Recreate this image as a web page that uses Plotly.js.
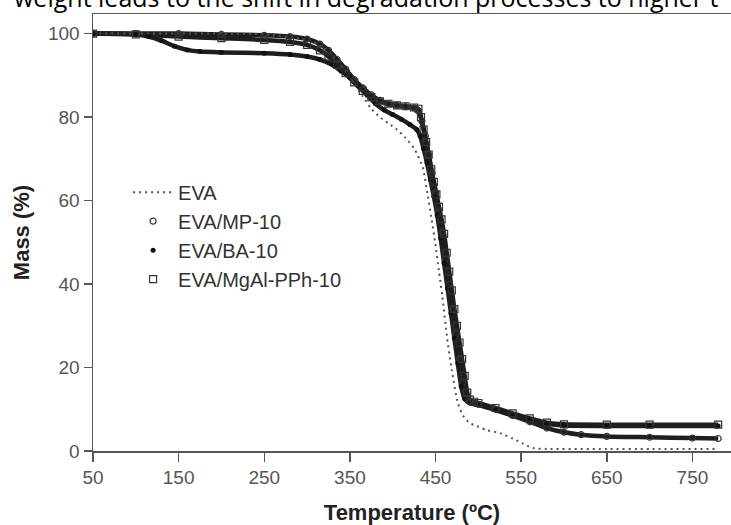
<!DOCTYPE html>
<html>
<head>
<meta charset="utf-8">
<script src="https://cdn.plot.ly/plotly-3.0.1.min.js"></script>
<style>html,body{margin:0;padding:0;background:#fff;}#chart{width:731px;height:525px;}</style>
</head>
<body>
<div id="chart"></div>
<script>
// ---- data ----
const xTicks = [50, 150, 250, 350, 450, 550, 650, 750];
const yTicks = [0, 20, 40, 60, 80, 100];

const seriesNames = ["EVA", "EVA/MP-10", "EVA/BA-10", "EVA/MgAl-PPh-10"];

const tEVA = [50,100,150,200,250,300,320,335,345,355,365,375,385,395,405,415,425,435,441,445,449.5,454,458,463.5,469,476,482,490,500,510,525,540,552,564,580,650,700,780];
const mEVA = [100,100,100,100,99.8,98.5,96.5,93.5,91,88,85,82,80,78.5,77,75,72.5,68,61,56,50,43,37,27,19.4,11.5,8.5,6.7,5.8,5,4.3,3,1.8,0.7,0.5,0.5,0.5,0.5];

const tMP = [50,100,150,200,250,280,300,315,325,335,345,355,365,375,385,395,405,415,425,430,434,438,442,446,450,454,458,462,466,470,474,478,482,486,490,500,520,540,560,580,600,620,650,700,750,780];
const mMP = [100,100,100,99.8,99.6,99.3,98.7,97.5,96,93.8,91.5,89,87,85.3,84,83.2,82.8,82.5,82.2,81.5,79,75.5,71,66.5,62,57.5,52.5,46,40,34,28,22,16.5,12.5,11.8,11.2,10,8.5,7,5.5,4.5,3.9,3.5,3.3,3.1,3.0];

const tBA = [50,100,115,130,145,160,175,200,250,280,300,315,330,340,350,360,370,380,390,400,410,420,428,432,436,440,444,448,452,456,460,464,468,472,476,480,484,490,500,520,540,560,580,600,650,700,780];
const mBA = [100,99.8,99.3,98.3,97,96.1,95.7,95.5,95.3,95,94.5,93.8,92.5,91,89.5,87.5,85.3,83.2,81.7,80.6,79.5,78.2,77,75.5,72.5,69,65,61,56.5,51,45,39,33,27,21,15.5,12.5,11.5,11,9.8,8.5,7.3,6.5,6.1,6,6,6];

const tMg = [50,100,150,200,250,280,300,315,325,335,345,355,365,375,385,395,405,415,425,430,433,436,439,442,445,448,451,454,457,460,463,466,469,472,475,478,481,484,487,490,495,500,520,540,560,580,600,650,700,780];
const mMg = [100,99.8,99.3,98.9,98.5,98,97.3,96,94.5,92.5,90.5,88.3,86.3,84.8,83.8,83.2,82.8,82.6,82.3,82,80,77,74,71,67.5,64.5,61.5,58.5,55.5,52,47.5,43,38.5,34,30,26,22,18,14,12.3,11.8,11.5,10.3,9,7.8,6.8,6.4,6.3,6.3,6.3];

const topText = "weight leads to the shift in degradation processes to higher t";

// ---- traces ----
const lineCol = "#1e1e1e";
const traces = [];
// thick bands (same data, no legend)
[[tMP, mMP], [tBA, mBA], [tMg, mMg]].forEach(function (d) {
  traces.push({x: d[0], y: d[1], type: "scatter", mode: "lines", showlegend: false, hoverinfo: "skip",
    line: {color: lineCol, width: 4.5, shape: "spline", smoothing: 0.6}});
});
traces.push({x: tEVA, y: mEVA, name: seriesNames[0], type: "scatter", mode: "lines",
  line: {color: "#555", width: 2, dash: "2px,4px", shape: "spline", smoothing: 0.6}});
traces.push({x: tMP, y: mMP, name: seriesNames[1], type: "scatter", mode: "markers",
  marker: {symbol: "circle-open", size: 6, color: "#333", line: {width: 1.2, color: "#333"}}});
traces.push({x: tBA, y: mBA, name: seriesNames[2], type: "scatter", mode: "markers",
  marker: {symbol: "circle", size: 5, color: "#111"}});
traces.push({x: tMg, y: mMg, name: seriesNames[3], type: "scatter", mode: "markers",
  marker: {symbol: "square-open", size: 7, color: "#333", line: {width: 1.2, color: "#333"}}});

const tickFont = {family: "Liberation Sans, Arial, sans-serif", size: 19, color: "#555"};
const titleFont = {family: "Liberation Sans, Arial, sans-serif", size: 22, color: "#222", weight: "bold"};

const layout = {
  width: 731, height: 525,
  margin: {l: 93, r: 0, t: 14, b: 74, pad: 0},
  paper_bgcolor: "#fff", plot_bgcolor: "#fff",
  showlegend: true,
  xaxis: {
    range: [50, 795], tickmode: "array", tickvals: xTicks, ticktext: xTicks.map(String),
    ticks: "outside", ticklen: 9, tickwidth: 1.5, tickcolor: "#555",
    showline: true, linecolor: "#555", linewidth: 1.5, mirror: true,
    showgrid: false, zeroline: false, tickfont: tickFont,
    title: {text: "Temperature (ºC)", font: titleFont, standoff: 17}
  },
  yaxis: {
    range: [0, 104.7], tickmode: "array", tickvals: yTicks, ticktext: yTicks.map(String),
    ticks: "outside", ticklen: 8, tickwidth: 1.5, tickcolor: "#555",
    showline: true, linecolor: "#555", linewidth: 1.5,
    showgrid: false, zeroline: false, tickfont: tickFont,
    title: {text: "Mass (%)", font: titleFont, standoff: 12}
  },
  legend: {
    x: 0.055, y: 0.637, xanchor: "left", yanchor: "top",
    itemwidth: 40,
    bgcolor: "rgba(0,0,0,0)", borderwidth: 0,
    font: {family: "Liberation Sans, Arial, sans-serif", size: 20, color: "#333"},
    tracegroupgap: 0
  },
  annotations: [{
    text: topText, xref: "paper", yref: "paper", x: -0.127, y: 1, xanchor: "left", yanchor: "bottom",
    yshift: -2, showarrow: false,
    font: {family: "Open Sans, Noto Sans, sans-serif", size: 25, color: "#000"}
  }]
};

Plotly.newPlot("chart", traces, layout, {staticPlot: true, displayModeBar: false});
</script>
</body>
</html>
